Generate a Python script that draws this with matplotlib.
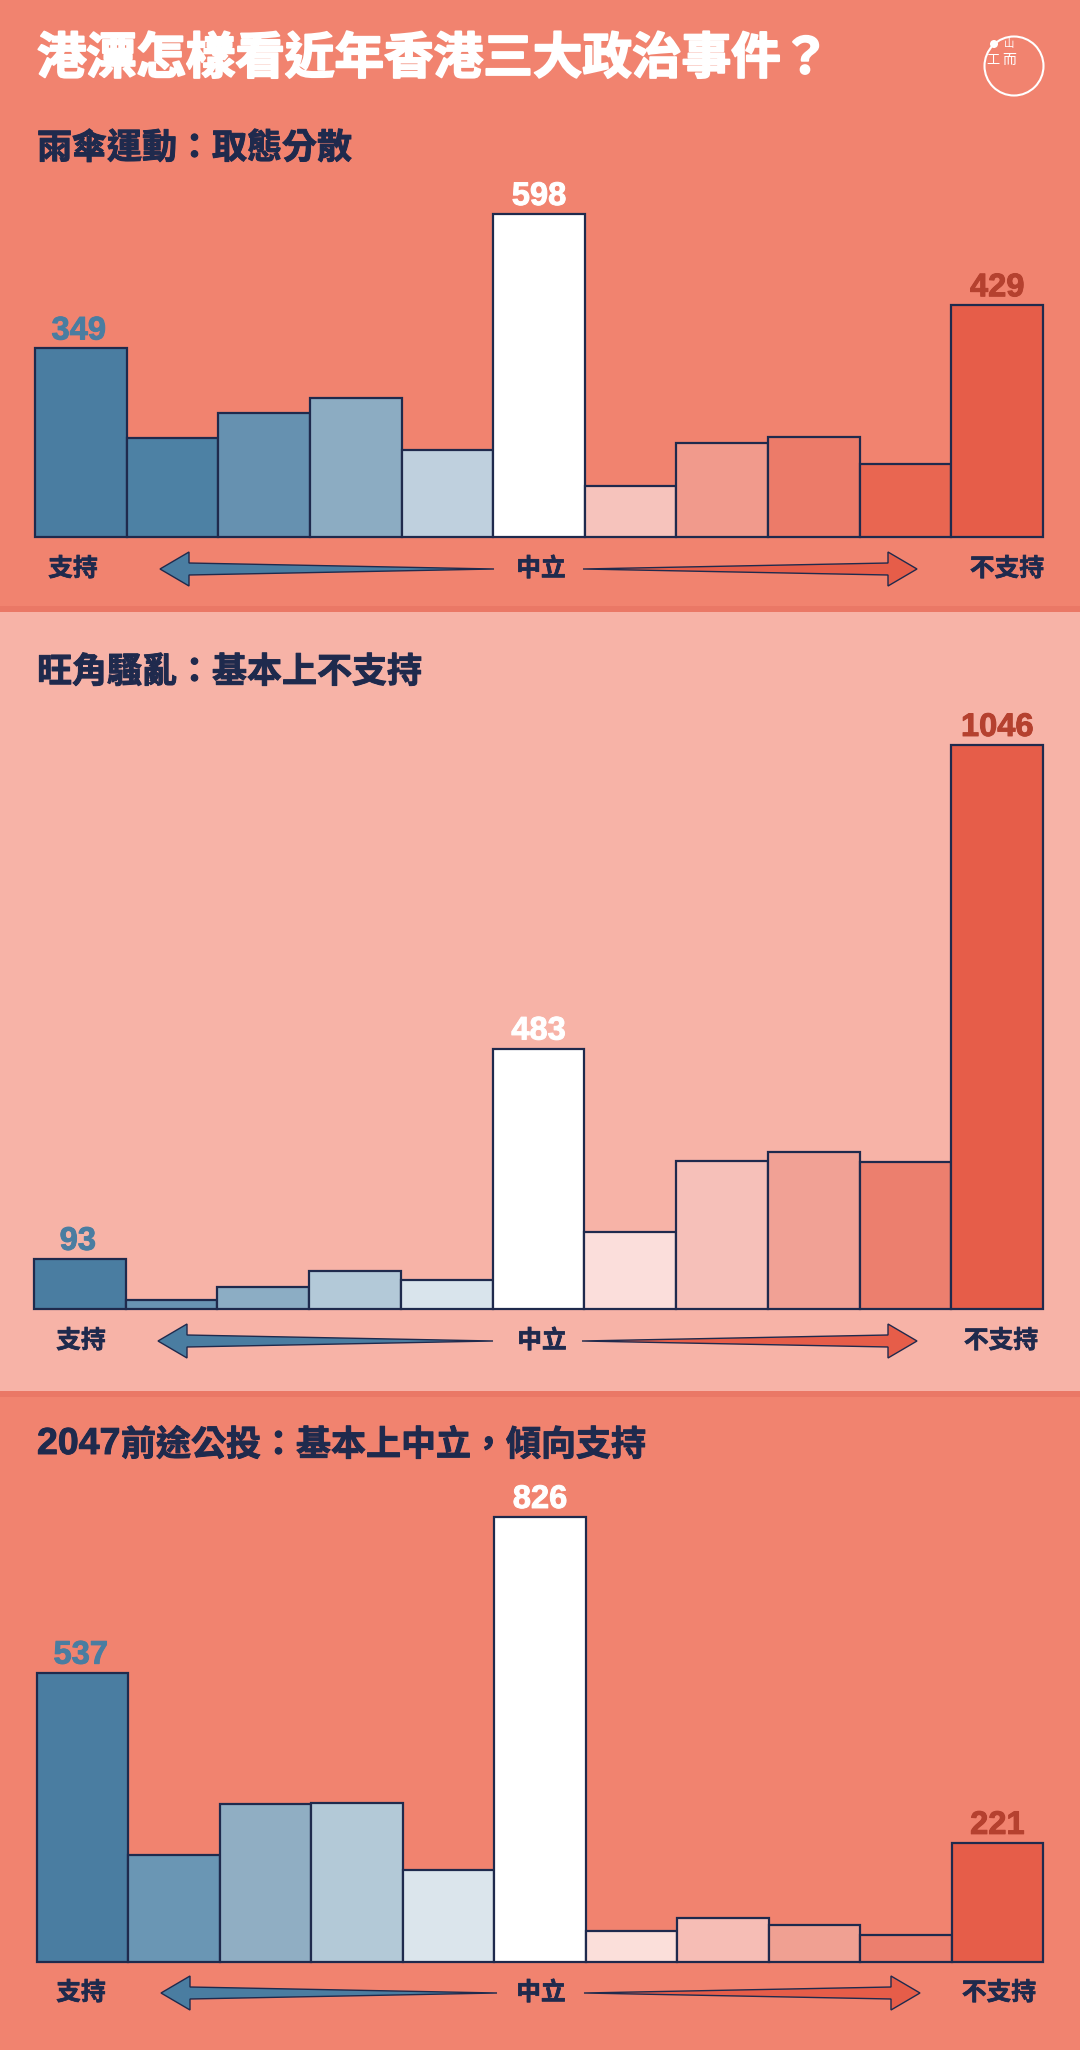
import matplotlib
matplotlib.use("Agg")
import matplotlib.pyplot as plt
import matplotlib.patheffects as pe
from matplotlib.patches import Circle, Polygon, Rectangle

plt.rcParams["font.family"] = ["Noto Sans CJK TC", "DejaVu Sans"]

W, H = 1080, 2050

main_title = "港漂怎樣看近年香港三大政治事件？"
umbrella_title = "雨傘運動：取態分散"
mongkok_title = "旺角騷亂：基本上不支持"
referendum_year = "2047"
referendum_title = "前途公投：基本上中立，傾向支持"

scale_labels = ["支持", "中立", "不支持"]

# only first/middle/last are printed in the original
umbrella_values = [349, 183, 229, 257, 161, 598, 94, 174, 185, 135, 429]
mongkok_values = [93, 17, 41, 70, 53, 483, 143, 274, 291, 272, 1046]
referendum_values = [537, 199, 293, 295, 171, 826, 58, 82, 69, 50, 221]
labelled_bars = [0, 5, 10]

umbrella_colors = ["#4a7da1", "#4d81a4", "#6691b0", "#8cacc2", "#bfd0de", "#ffffff",
                   "#f6c3bc", "#f19a8c", "#ec7b69", "#e96651", "#e65d49"]
mongkok_colors = ["#4a7da1", "#6994b3", "#8cadc4", "#b3c9d8", "#d9e4ec", "#ffffff",
                  "#fbdedb", "#f6c0b9", "#f1a195", "#ec7f6e", "#e65d49"]
referendum_colors = ["#4a7da1", "#6a96b4", "#90aec3", "#b3c9d7", "#dbe5ec", "#ffffff",
                     "#fbdfda", "#f6bdb5", "#f0a092", "#ec7f6e", "#e65d49"]

NAVY = "#1f2a4d"
BLUE = "#4a7da1"
RED = "#e65d49"
DARK_RED = "#b5412f"
BG_DARK = "#f1836f"
BG_LIGHT = "#f7b3a7"
STRIP = "#ea7866"

fig = plt.figure(figsize=(W / 100, H / 100), dpi=100, facecolor=BG_DARK)

# whole-figure layer in pixels for backgrounds, arrows and headings
bg = fig.add_axes([0, 0, 1, 1], zorder=0)
bg.set_xlim(0, W)
bg.set_ylim(H, 0)
bg.axis("off")

bg.add_patch(Rectangle((0, 0), W, 606, fc=BG_DARK, ec="none"))
bg.add_patch(Rectangle((0, 606), W, 6, fc=STRIP, ec="none"))
bg.add_patch(Rectangle((0, 612), W, 779, fc=BG_LIGHT, ec="none"))
bg.add_patch(Rectangle((0, 1391), W, 6, fc=STRIP, ec="none"))
bg.add_patch(Rectangle((0, 1397), W, 653, fc=BG_DARK, ec="none"))


def heavy(width, color):
    # the original uses a heavier face than the installed ones
    return [pe.withStroke(linewidth=width, foreground=color)]


def draw_arrow(x_start, x_tip, y, color):
    # thin end at the centre, widens to the head
    sign = 1 if x_tip > x_start else -1
    head = x_tip - sign * 29
    pts = [(x_start, y), (head, y - 6), (head, y - 17), (x_tip, y),
           (head, y + 17), (head, y + 6)]
    bg.add_patch(Polygon(pts, closed=True, fc=color, ec=NAVY, lw=1.0, joinstyle="miter"))


def draw_panel(values, colors, title, title_x, title_y, left, right, base_y, top_y,
               arrow_y, label_xs, left_arrow, right_arrow):
    ax = fig.add_axes([left / W, 1 - base_y / H, (right - left) / W, (base_y - top_y) / H],
                      zorder=1)
    ax.patch.set_alpha(0)
    ax.set_xlim(-0.5, 10.5)
    ax.set_ylim(0, max(values))
    ax.axis("off")
    bars = ax.bar(range(len(values)), values, width=1, color=colors,
                  edgecolor=NAVY, linewidth=1.6)
    for b in bars:
        b.set_clip_on(False)
    label_colors = {0: BLUE, 5: "white", 10: DARK_RED}
    label_nudge = {0: -1.5, 5: 0, 10: 0}
    for i in labelled_bars:
        ax.annotate(str(values[i]), (i, values[i]), xytext=(label_nudge[i], 6.5),
                    textcoords="offset points", ha="center", va="baseline",
                    fontsize=23.5, fontweight="bold", color=label_colors[i],
                    family=["Liberation Sans", "DejaVu Sans"], annotation_clip=False,
                    path_effects=heavy(0.7, label_colors[i]))

    bg.text(title_x, title_y, title, fontsize=25.2, fontweight="bold", color=NAVY,
            ha="left", va="center", path_effects=heavy(0.7, NAVY))
    for x, label in zip(label_xs, scale_labels):
        bg.text(x, arrow_y, label, fontsize=17.8, fontweight="bold", color=NAVY,
                ha="center", va="center", path_effects=heavy(0.5, NAVY))
    draw_arrow(left_arrow[0], left_arrow[1], arrow_y, BLUE)
    draw_arrow(right_arrow[0], right_arrow[1], arrow_y, RED)


draw_panel(umbrella_values, umbrella_colors, umbrella_title, 37, 148,
           35, 1043, 537, 214, 569, (73, 541, 1007), (494, 160), (583, 917))
draw_panel(mongkok_values, mongkok_colors, mongkok_title, 37, 672,
           34, 1043, 1309, 745, 1341, (81, 542, 1001), (493, 158), (582, 917))
draw_panel(referendum_values, referendum_colors, referendum_title, 121, 1445,
           37, 1043, 1962, 1517, 1993, (81, 541, 999), (497, 161), (584, 920))

# the year is set larger than the Chinese text around it
bg.text(37, 1444, referendum_year, fontsize=27, fontweight="bold", color=NAVY,
        ha="left", va="center", family=["Liberation Sans", "DejaVu Sans"],
        path_effects=heavy(0.7, NAVY))

# main heading
bg.text(37, 59, main_title, fontsize=35.7, fontweight="black", color="white",
        ha="left", va="center", path_effects=heavy(1.4, "white"))

# logo top right
bg.add_patch(Circle((1014, 66), 29.5, fc="none", ec="white", lw=1.5))
bg.add_patch(Circle((994, 44), 4, fc="white", ec="none"))
bg.text(1009, 44, "山", fontsize=7.5, color="white", ha="center", va="center")
bg.text(1009, 60, "而", fontsize=10, color="white", ha="center", va="center")
bg.text(993, 60, "工", fontsize=9.5, color="white", ha="center", va="center")

fig.savefig("out.png", dpi=100)
